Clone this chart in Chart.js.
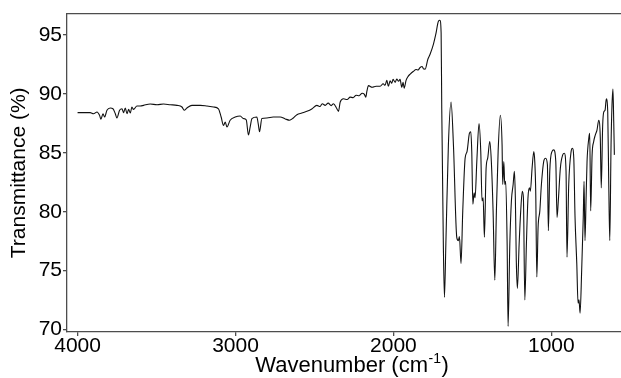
<!DOCTYPE html>
<html>
<head>
<meta charset="utf-8">
<script src="https://cdn.jsdelivr.net/npm/chart.js@4.4.1/dist/chart.umd.min.js"></script>
<style>
  html, body { margin: 0; padding: 0; background: #fff; }
  #wrap { width: 621px; height: 378px; position: relative; }
</style>
</head>
<body>
<div id="wrap"><canvas id="c" width="621" height="378"></canvas></div>
<script>
// ---- data ----
const wavenumber = [
  4000,3920,3899,3877,3861,3852,3839,3829,3814,3793,3776,3761,3751,3734,3719,3709,3698,3687,3677,3666,
  3656,3646,3624,3603,3582,3540,3497,3456,3413,3371,3339,3325,3308,3276,3223,3181,3139,3108,3091,3076,
  3065,3054,3034,3002,2970,2951,2932,2918,2907,2896,2865,2856,2848,2833,2801,2761,2717,2685,2658,2634,
  2611,2580,2548,2517,2485,2464,2451,2432,2413,2394,2380,2358,2348,2337,2316,2293,2274,2255,2236,2217,
  2198,2185,2175,2168,2158,2135,2110,2084,2065,2053,2042,2032,2021,2011,2002,1989,1979,1967,1958,1947,
  1939,1932,1920,1907,1894,1875,1856,1844,1831,1818,1809,
  1799,1782,1768,1747,1732,1715,1706,1698,1694,1684,1677,1668,1652,1635,1620,1599,1589,1582,1572,1561,
  1546,1534,1519,1510,1504,1497,1489,1483,1472,1458,1447,1439,1432,1424,1413,1403,1390,1380,1369,1358,
  1348,1337,1323,1312,1308,1301,1295,1289,1280,1274,1263,1253,1242,1234,1228,1222,1215,1204,1194,1184,
  1177,1168,1158,1148,1139,1133,1122,1111,1105,1099,1092,1084,1073,1063,1046,1036,1025,1019,1010,996,
  985,972,964,956,943,928,918,907,901,890,875,867,858,850,839,831,825,818,808,798,
  793,787,780,774,763,757,751,742,732,722,711,700,690,684,675,668,660,652,643,637,
  630,622,616,610,605,601
];
const transmittance = [
  88.40,88.40,88.31,88.46,88.18,87.85,88.31,88.03,88.60,88.79,88.73,88.31,87.95,88.60,88.73,88.40,88.79,88.31,88.68,88.37,
  88.88,88.68,88.96,88.96,89.02,89.13,89.07,89.13,89.07,89.02,88.88,88.60,88.79,89.02,89.02,88.96,88.88,88.73,88.03,87.32,
  87.60,87.18,87.76,88.03,88.12,87.90,87.79,86.50,87.20,87.90,88.03,87.45,86.78,87.90,87.95,88.03,88.03,87.87,87.76,87.95,
  88.23,88.37,88.51,88.71,89.02,88.92,89.16,89.02,89.21,89.00,89.16,88.73,88.51,89.30,89.58,89.51,89.72,89.67,89.88,89.84,
  90.05,89.97,89.72,90.22,90.69,90.55,90.64,90.64,90.85,90.72,91.14,90.64,91.10,90.89,91.22,90.97,91.25,91.06,91.22,90.55,
  90.97,90.47,91.14,91.48,91.67,91.89,92.06,92.02,92.23,92.31,92.10,
  92.09,92.93,93.35,94.19,95.03,96.15,96.23,95.17,88.73,77.27,72.74,77.27,85.66,89.30,85.66,77.83,77.55,77.89,75.60,80.07,
  84.54,85.10,86.64,86.78,85.10,80.63,81.60,81.18,84.26,87.47,85.10,80.91,81.18,77.83,83.70,84.54,85.94,84.26,80.07,74.19,
  80.07,85.10,88.18,85.66,82.31,84.26,82.31,82.58,77.27,70.28,77.27,80.91,82.31,83.42,81.18,75.87,73.50,77.27,80.07,81.74,
  81.18,72.52,77.27,81.18,82.02,81.74,83.70,85.10,84.26,81.74,74.47,78.67,80.07,82.31,84.40,84.54,83.98,78.39,83.42,85.10,
  85.24,84.26,79.51,80.91,83.70,84.82,84.96,83.42,76.15,82.31,85.10,85.38,84.54,79.51,75.60,72.24,72.52,71.40,75.03,79.51,
  82.58,77.55,81.18,84.26,86.22,86.64,80.07,84.82,85.94,86.50,86.92,87.76,86.22,82.02,87.34,88.46,88.60,89.57,88.46,82.86,
  77.55,85.66,89.02,90.41,87.62,84.82
];
const xTicks = [4000, 3000, 2000, 1000];
const yTicks = [70, 75, 80, 85, 90, 95];
const xTitleMain = "Wavenumber (cm";
const xTitleSup = "-1";
const xTitleEnd = ")";
const yTitle = "Transmittance (%)";

const FONT = "'Liberation Sans', Arial, Helvetica, sans-serif";
const AXIS_COLOR = '#4d4d4d';

const points = wavenumber.map((w, i) => ({ x: w, y: transmittance[i] }));

const frameAndTitle = {
  id: 'frameAndTitle',
  afterDraw(chart) {
    const { ctx, chartArea } = chart;
    ctx.save();
    ctx.strokeStyle = AXIS_COLOR;
    ctx.lineWidth = 1.3;
    ctx.beginPath();
    ctx.moveTo(chartArea.left, chartArea.top);
    ctx.lineTo(chartArea.right, chartArea.top);
    ctx.stroke();
    ctx.fillStyle = '#000';
    ctx.textBaseline = 'alphabetic';
    const big = '22px ' + FONT, small = '14px ' + FONT;
    ctx.font = big; const w1 = ctx.measureText(xTitleMain).width; const w3 = ctx.measureText(xTitleEnd).width;
    ctx.font = small; const w2 = ctx.measureText(xTitleSup).width;
    const total = w1 + w2 + w3 + 1;
    let x = 352 - total / 2;
    const base = 372;
    ctx.font = big; ctx.fillText(xTitleMain, x, base); x += w1 + 0.5;
    ctx.font = small; ctx.fillText(xTitleSup, x, base - 9); x += w2 + 0.5;
    ctx.font = big; ctx.fillText(xTitleEnd, x, base);
    ctx.restore();
  }
};

new Chart(document.getElementById('c'), {
  type: 'line',
  data: {
    datasets: [{
      data: points,
      borderColor: '#111',
      borderWidth: 1.1,
      pointRadius: 0,
      cubicInterpolationMode: 'monotone',
      fill: false
    }]
  },
  options: {
    responsive: false,
    animation: false,
    devicePixelRatio: 1,
    layout: { padding: { top: 11, left: 0, right: 0, bottom: 0 } },
    plugins: { legend: { display: false }, tooltip: { enabled: false } },
    scales: {
      x: {
        type: 'linear',
        reverse: true,
        min: 559,
        max: 4067,
        afterBuildTicks: s => { s.ticks = xTicks.map(v => ({ value: v })); },
        afterFit: s => { s.height = 46; },
        grid: { display: true, drawOnChartArea: false, drawTicks: true, tickLength: 4, color: AXIS_COLOR, lineWidth: 1.3 },
        border: { display: true, color: AXIS_COLOR, width: 1.3 },
        ticks: { color: '#000', font: { family: FONT, size: 21 }, padding: -2, maxRotation: 0, autoSkip: false, callback: v => String(v) },
        title: { display: false }
      },
      y: {
        type: 'linear',
        min: 69.8,
        max: 96.8,
        afterBuildTicks: s => { s.ticks = yTicks.map(v => ({ value: v })); },
        afterFit: s => { s.width = 67; },
        grid: { display: true, drawOnChartArea: false, drawTicks: true, tickLength: 4, color: AXIS_COLOR, lineWidth: 1.3 },
        border: { display: true, color: AXIS_COLOR, width: 1.3 },
        ticks: { color: '#000', font: { family: FONT, size: 21 }, padding: 1, autoSkip: false, callback: v => String(v) },
        title: { display: true, text: yTitle, color: '#000', font: { family: FONT, size: 21 }, padding: { top: 7, bottom: 0 } }
      }
    }
  },
  plugins: [frameAndTitle]
});
</script>
</body>
</html>
